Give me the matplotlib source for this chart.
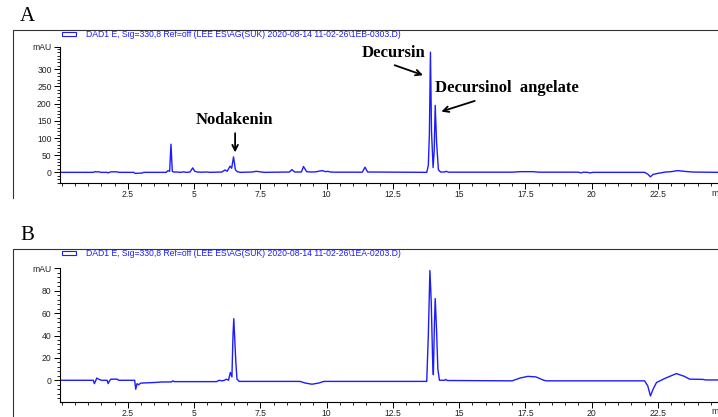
import matplotlib.pyplot as plt
from matplotlib.lines import Line2D
from matplotlib.patches import Rectangle
from matplotlib.ticker import MultipleLocator

plt.rcParams["font.family"] = ["Liberation Sans", "DejaVu Sans"]

# chromatogram traces: (retention time [min], signal [mAU])
trace_a = [
    (0.0, 0), (1.2, 0), (1.25, 2), (1.3, 1.5), (1.42, 1.5), (1.48, 0),
    (1.72, 0), (1.76, -1.5), (1.82, 0.5), (1.88, 1.5), (2.1, 1.5), (2.16, 0),
    (2.72, 0), (2.78, -3), (2.9, -2.5), (3.05, -2), (3.1, 0), (3.95, 0),
    (4.02, 5), (4.08, 3), (4.13, 82), (4.18, 3), (4.23, 1), (4.35, 1),
    (4.5, 0), (4.6, 1.5), (4.7, 0), (4.85, 1), (4.95, 13), (5.03, 3),
    (5.12, 1), (5.3, 0.5), (5.5, 1), (5.6, 0), (6.05, 1), (6.17, 7),
    (6.25, 3), (6.36, 18), (6.42, 12), (6.49, 45), (6.56, 8), (6.63, 2),
    (6.75, 0), (7.2, 1), (7.34, 3), (7.5, 1.5), (7.65, 0), (8.6, 1),
    (8.69, 8), (8.8, 1), (9.05, 1), (9.13, 17), (9.25, 2), (9.4, 1),
    (9.6, 1.5), (9.75, 4), (9.85, 5), (9.95, 2), (10.05, 3), (10.15, 1),
    (10.3, 0.5), (11.35, 0.5), (11.45, 15), (11.55, 1), (13.78, 0),
    (13.84, 20), (13.88, 110), (13.92, 350), (13.96, 120), (14.02, 14),
    (14.06, 60), (14.1, 195), (14.15, 90), (14.22, 8), (14.3, 1),
    (14.45, 1), (14.52, 3), (14.6, 0.5), (17.0, 0.5), (17.3, 2), (17.8, 2),
    (18.0, 0.5), (19.5, 0.5), (19.6, -1.5), (19.7, 0.5), (19.85, 0),
    (19.95, -1.5), (20.05, 0), (22.0, 0), (22.12, -5), (22.22, -13),
    (22.32, -6), (22.5, -3), (22.8, 1), (23.0, 2), (23.25, 5), (23.5, 3),
    (23.8, 1), (24.2, 0.5), (24.8, 0),
]

trace_b = [
    (0.0, 0), (1.2, 0), (1.24, -3), (1.28, -1), (1.33, 2), (1.4, 1),
    (1.5, 0), (1.72, 0), (1.76, -3), (1.8, -1), (1.86, 1), (2.1, 1),
    (2.16, 0), (2.76, 0), (2.8, -8), (2.85, -3), (2.9, -4), (3.0, -2.5),
    (3.5, -2), (3.8, -1.5), (4.15, -1.5), (4.2, -0.5), (4.25, -1.2),
    (5.85, -1.2), (5.95, 0), (6.05, -0.5), (6.15, 0), (6.22, 1), (6.3, 0),
    (6.37, 7), (6.43, 3), (6.47, 40), (6.5, 55), (6.54, 35), (6.58, 15),
    (6.62, 1), (6.7, -1), (9.0, -1), (9.2, -2.5), (9.45, -3.5), (9.7, -2.5),
    (9.9, -1), (13.78, -1), (13.84, 40), (13.9, 98), (13.95, 70), (14.0, 20),
    (14.03, 5), (14.07, 50), (14.1, 73), (14.15, 45), (14.2, 10), (14.26, 0),
    (14.45, 0), (14.5, 0.8), (14.55, -0.2), (17.0, -0.5), (17.3, 2),
    (17.6, 3.5), (17.9, 3), (18.2, 0), (18.3, -0.5), (22.0, -0.5),
    (22.12, -5), (22.22, -14), (22.32, -8), (22.45, -2), (22.75, 1.5),
    (23.0, 4), (23.2, 6), (23.5, 3.5), (23.7, 1), (24.2, 0.8), (24.3, 0.3),
    (24.8, 0.3),
]

x_ticks = [2.5, 5, 7.5, 10, 12.5, 15, 17.5, 20, 22.5]
x_tick_labels = ["2.5", "5", "7.5", "10", "12.5", "15", "17.5", "20", "22.5"]
y_ticks_a = [0, 50, 100, 150, 200, 250, 300]
y_ticks_b = [0, 20, 40, 60, 80]

legend_a = "DAD1 E, Sig=330,8 Ref=off (LEE ES\\AG(SUK) 2020-08-14 11-02-26\\1EB-0303.D)"
legend_b = "DAD1 E, Sig=330,8 Ref=off (LEE ES\\AG(SUK) 2020-08-14 11-02-26\\1EA-0203.D)"

# label, text position (t, mAU), arrow tail, arrow tip
peak_notes = [
    ("Nodakenin", (6.52, 142), (6.55, 114), (6.55, 58)),
    ("Decursin", (12.51, 337), (12.57, 312), (13.64, 283)),
    ("Decursinol  angelate", (16.81, 235), (15.59, 208), (14.33, 177)),
]

W, H = 718, 417
BLUE = "#1c1cff"
fig = plt.figure(figsize=(W / 100, H / 100), dpi=100)


def px_box(left, top, right, bottom):
    return [left / W, 1 - bottom / H, (right - left) / W, (bottom - top) / H]


def style_axis(ax, ylim, yticks, minor):
    ax.set_xlim(-0.057, 24.77)
    ax.set_ylim(*ylim)
    for side in ("top", "right"):
        ax.spines[side].set_visible(False)
    for side in ("left", "bottom"):
        ax.spines[side].set_linewidth(0.8)
    ax.set_xticks(x_ticks)
    ax.set_xticklabels(x_tick_labels)
    ax.xaxis.set_minor_locator(MultipleLocator(0.5))
    ax.set_yticks(yticks + [ylim[1]])
    ax.set_yticklabels([str(v) for v in yticks] + ["mAU"])
    ax.yaxis.set_minor_locator(MultipleLocator(minor))
    ax.tick_params(which="major", direction="out", length=4, width=0.7,
                   labelsize=6.2, pad=2, labelcolor="#222222")
    ax.tick_params(axis="x", which="major", pad=1)
    ax.tick_params(which="minor", direction="out", length=2, width=0.6)
    ax.patch.set_visible(False)


def panel(trace, box, ylim, yticks, minor, letter, frame_top, legend):
    ax = fig.add_axes(px_box(*box))
    t, mau = zip(*trace)
    ax.plot(t, mau, color=BLUE, lw=1.0)
    style_axis(ax, ylim, yticks, minor)
    # "min" unit at the cut right end of the time axis
    fig.text(711 / W, 1 - (box[3] + 10) / H, "min", fontsize=6.2,
             color="#222222", ha="left", va="center")
    # outer frame (left + top)
    fig.add_artist(Line2D([12.5 / W, 12.5 / W, 1],
                          [max(0, 1 - (frame_top + 168) / H), 1 - frame_top / H,
                           1 - frame_top / H],
                          transform=fig.transFigure, color="#333333", lw=0.8))
    fig.text(20 / W, 1 - (frame_top - 9) / H, letter, fontsize=15,
             family="Liberation Serif", ha="left", va="baseline")
    fig.add_artist(Rectangle((62 / W, 1 - (frame_top + 6) / H), 14 / W, 3.8 / H,
                             transform=fig.transFigure, fill=False,
                             edgecolor=BLUE, lw=0.8))
    fig.text(86 / W, 1 - (frame_top + 4.3) / H, legend, fontsize=6.2,
             color=BLUE, ha="left", va="center")
    return ax


ax_a = panel(trace_a, (60, 47, W, 183), (-31, 365), y_ticks_a, 10, "A", 30,
             legend_a)
ax_b = panel(trace_b, (60, 268, W, 402), (-19.4, 100.3), y_ticks_b, 4, "B",
             249, legend_b)

for label, text_xy, tail, tip in peak_notes:
    ax_a.text(*text_xy, label, fontsize=12, fontweight="bold",
              family="Liberation Serif", ha="center", va="baseline")
    ax_a.annotate("", xy=tip, xytext=tail,
                  arrowprops=dict(arrowstyle="->", color="black", lw=1.3,
                                  shrinkA=0, shrinkB=0, mutation_scale=10))

fig.savefig("out.png", dpi=100)
